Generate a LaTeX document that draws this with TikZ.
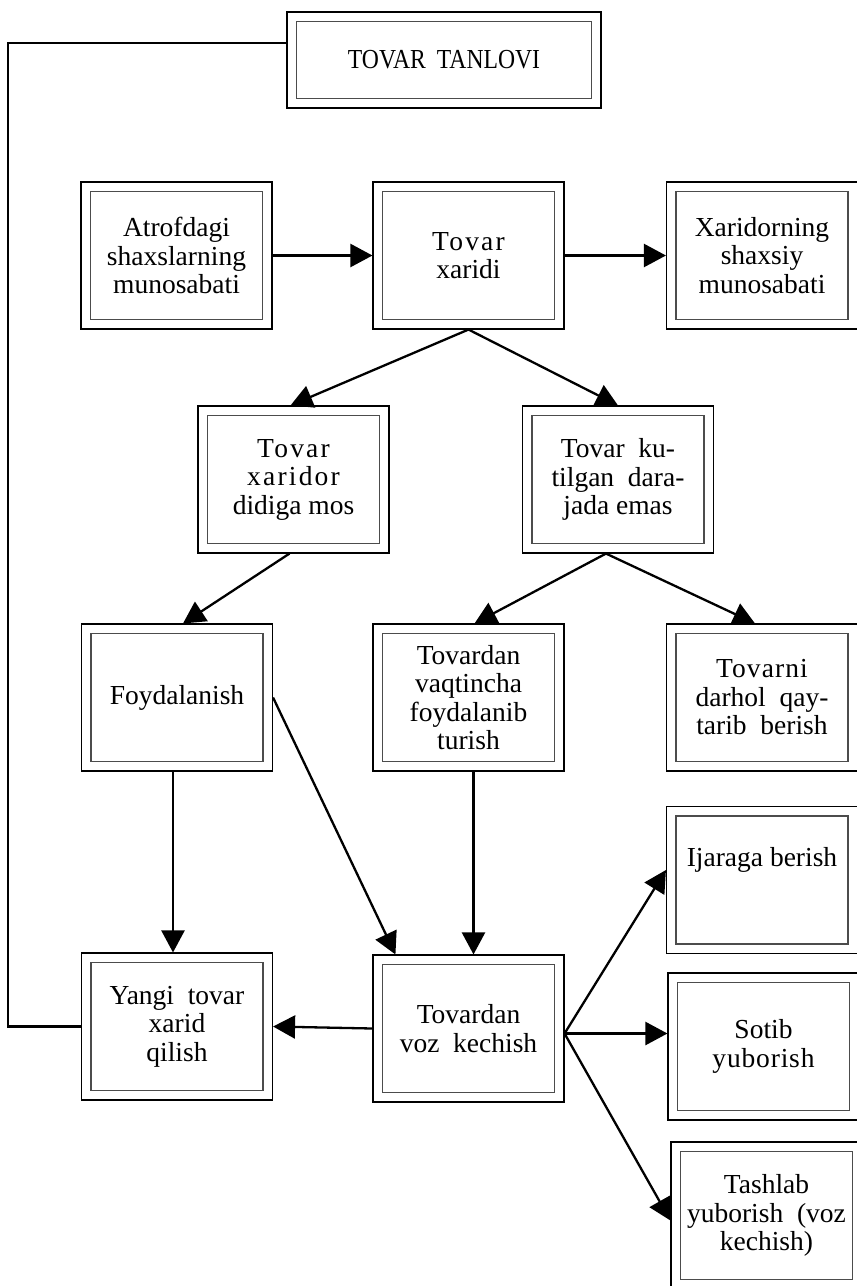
\documentclass[tikz,border=0pt]{standalone}
\usepackage{fontspec}
\setmainfont{Liberation Serif}
\usetikzlibrary{arrows.meta}
\begin{document}
\begin{tikzpicture}[x=1pt,y=-1pt,
  box/.style={draw=black, line width=1.1pt, fill=white, minimum width=191pt,
    minimum height=147pt, inner sep=0pt, align=center,
    font=\fontsize{27.5}{28.5}\selectfont,
    path picture={\draw[line width=1.2pt, black!70]
      ([shift={(9.5pt,9.5pt)}]path picture bounding box.south west) rectangle
      ([shift={(-9.5pt,-9.5pt)}]path picture bounding box.north east);}},
  conn/.style={line width=2.3pt, black},
  arr/.style={conn, -{Triangle[length=22pt,width=23pt]}}]
\fill[white] (0,0) rectangle (857,1286);
\useasboundingbox (0,0) rectangle (857,1286);

\node[box, minimum width=314pt, minimum height=96pt] (tanlovi) at (444,60)
  {\addfontfeature{FakeStretch=0.86}TOVAR\hspace{0.4em}TANLOVI};

\node[box] (atrof) at (176.5,255.5) {Atrofdagi\\shaxslarning\\munosabati};
\node[box] (xaridi) at (468.5,255.5) {{\addfontfeature{LetterSpace=8}Tovar}\\xaridi};
\node[box] (shaxsiy) at (762,255.5) {Xaridorning\\shaxsiy\\munosabati};

\node[box] (mos) at (293.5,479.5) {{\addfontfeature{LetterSpace=8}Tovar}\\{\addfontfeature{LetterSpace=8}xaridor}\\didiga mos};
\node[box] (emas) at (618,479.5) {Tovar\enspace ku-\\tilgan\enspace dara-\\jada emas};

\node[box] (foyd) at (177,697.5) {Foydalanish};
\node[box] (vaqt) at (468.5,697.5) {Tovardan\\vaqtincha\\foydalanib\\turish};
\node[box] (darhol) at (762,697.5) {{\addfontfeature{LetterSpace=4}Tovarni}\\darhol\enspace qay-\\tarib\enspace berish};

\node[box, text depth=46pt] (ijara) at (762,880) {Ijaraga berish};
\node[box] (sotib) at (763.5,1046.5) {Sotib\\{\addfontfeature{LetterSpace=3}yuborish}};
\node[box] (tashlab) at (766.5,1215.5) {Tashlab\\yuborish\enspace(voz\\kechish)};

\node[box] (yangi) at (177,1026.5) {Yangi\enspace tovar\\xarid\\qilish};
\node[box] (voz) at (468.5,1028.5) {Tovardan\\voz\enspace kechish};

\coordinate (tl) at (8,43);
\coordinate (fan) at ([yshift=-5pt]voz.east);

\draw[conn] ([yshift=17pt]tanlovi.west) -- (tl) |- (yangi.west);

\draw[arr] (atrof) -- (xaridi);
\draw[arr] (xaridi) -- (shaxsiy);
\draw[arr] (xaridi.south) -- ([xshift=-3pt]mos.north);
\draw[arr] (xaridi.south) -- (emas.north);
\draw[arr] ([xshift=-4pt]mos.south) -- ([xshift=6pt]foyd.north);
\draw[arr] ([xshift=-12pt]emas.south) -- ([xshift=6pt]vaqt.north);
\draw[arr] ([xshift=-12pt]emas.south) -- ([xshift=-7pt]darhol.north);
\draw[arr] ([xshift=-4pt]foyd.south) -- ([xshift=-4pt]yangi.north);
\draw[arr] (foyd.east) -- ([xshift=23pt]voz.north west);
\draw[arr] ([xshift=5pt]vaqt.south) -- ([xshift=5pt]voz.north);
\draw[arr] (voz.west) -- (yangi.east);
\draw[arr] (fan) -- ([yshift=10pt]ijara.west);
\draw[arr] (fan) -- (sotib.west |- fan);
\draw[arr] (fan) -- ([yshift=-5pt]tashlab.west);
\end{tikzpicture}
\end{document}
